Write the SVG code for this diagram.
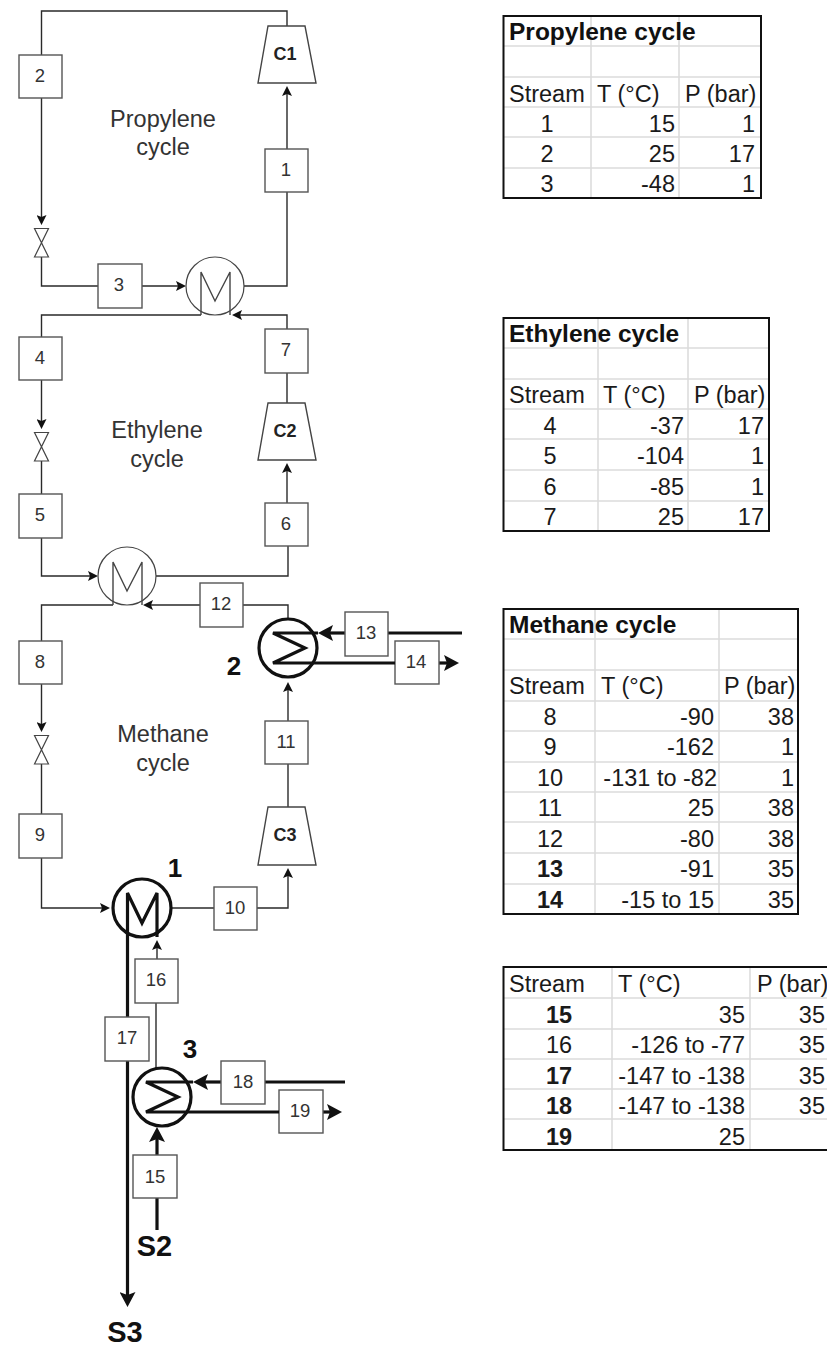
<svg xmlns="http://www.w3.org/2000/svg" width="827" height="1346" viewBox="0 0 827 1346">
<style>
text{font-family:"Liberation Sans",Arial,sans-serif;fill:#1a1a1a}
.c{fill:none;stroke:#2a2a2a;stroke-width:1.4}
.t{fill:none;stroke:#111;stroke-width:3.2}
.b{fill:#fff;stroke:#555;stroke-width:1.4}
.n{font-size:18.5px;text-anchor:middle;fill:#333}
.hx{fill:#fff;stroke:#444;stroke-width:1.2}
.hxb{fill:#fff;stroke:#111;stroke-width:3.2}
.z{fill:none;stroke:#444;stroke-width:1.4}
.v{fill:#fff;stroke:#444;stroke-width:1.2}
.k{fill:#fff;stroke:#444;stroke-width:1.4}
.lab{font-size:23.5px;text-anchor:middle;fill:#333}
.eq{font-size:18px;font-weight:bold;text-anchor:middle;fill:#222}
.num{font-size:26px;font-weight:bold;text-anchor:middle;fill:#111}
.s{font-size:29px;font-weight:bold;text-anchor:middle;fill:#111}
.g{stroke:#dcdcdc;stroke-width:1.6;fill:none}
.o{stroke:#111;stroke-width:2;fill:none}
.x{font-size:23.5px;fill:#111}
.h{font-size:24.5px;font-weight:bold;fill:#111}
.m{text-anchor:middle}
.r{text-anchor:end}
.bd{font-weight:bold}
</style>
<defs>
<marker id="a" viewBox="0 0 10 10" refX="2" refY="5" markerUnits="userSpaceOnUse" markerWidth="10" markerHeight="10" orient="auto"><path d="M0,0L10,5L0,10L2,5Z" fill="#111"/></marker>
<marker id="A" viewBox="0 0 10 10" refX="2" refY="5" preserveAspectRatio="none" markerUnits="userSpaceOnUse" markerWidth="15" markerHeight="16" orient="auto"><path d="M0,0L10,5L0,10L2,5Z" fill="#111"/></marker>
</defs>
<g id="connectors">
<path class="c" marker-end="url(#a)" d="M41.5,98V217"/>
<path class="c" marker-end="url(#a)" d="M41.5,257V286H98M142,286H178"/>
<path class="c" marker-end="url(#a)" d="M244,286H287V192M287,149V94"/>
<path class="c" d="M287,26V11H41.5V55"/>
<path class="c" d="M41.5,337V315H201"/>
<path class="c" marker-end="url(#a)" d="M41.5,380V421"/>
<path class="c" d="M41.5,461V494"/>
<path class="c" marker-end="url(#a)" d="M41.5,538V576H90"/>
<path class="c" d="M156,576H288V546"/>
<path class="c" marker-end="url(#a)" d="M287,503V471"/>
<path class="c" d="M287,403V373"/>
<path class="c" marker-end="url(#a)" d="M287,329V315H240"/>
<path class="c" d="M41.5,641V605H113"/>
<path class="c" marker-end="url(#a)" d="M41.5,684V724"/>
<path class="c" d="M41.5,764V814"/>
<path class="c" marker-end="url(#a)" d="M41.5,858V908H102"/>
<path class="c" d="M171,908H214"/>
<path class="c" marker-end="url(#a)" d="M257,908H288V876"/>
<path class="c" d="M288,807V764"/>
<path class="c" marker-end="url(#a)" d="M288,721V690"/>
<path class="c" marker-end="url(#a)" d="M288,619V605H243M200,605H151"/>
<path class="t" d="M462,633H388"/>
<path class="t" marker-end="url(#A)" d="M345,633H330"/>
<path class="t" marker-end="url(#A)" d="M439,663H447"/>
<path class="c" marker-end="url(#a)" d="M157,959V948"/>
<path class="c" d="M156,1003V1068"/>
<path class="t" d="M127.5,945V1017"/>
<path class="t" marker-end="url(#A)" d="M127.5,1061V1295"/>
<path class="t" d="M345,1082H265"/>
<path class="t" marker-end="url(#A)" d="M221,1082H205"/>
<path class="t" marker-end="url(#A)" d="M323,1112H330"/>
<path class="t" d="M157,1230V1198"/>
<path class="t" marker-end="url(#A)" d="M157,1155V1139"/>
</g>
<g id="box2"><rect class="b" x="19" y="55" width="43" height="43"/><text class="n" x="40" y="82">2</text></g>
<g id="box1"><rect class="b" x="265" y="149" width="43" height="43"/><text class="n" x="286" y="176">1</text></g>
<g id="box3"><rect class="b" x="98" y="264" width="44" height="44"/><text class="n" x="119" y="291">3</text></g>
<g id="box4"><rect class="b" x="19" y="337" width="43" height="43"/><text class="n" x="40" y="364">4</text></g>
<g id="box7"><rect class="b" x="265" y="329" width="43" height="44"/><text class="n" x="286" y="356">7</text></g>
<g id="box5"><rect class="b" x="19" y="494" width="43" height="44"/><text class="n" x="40" y="521">5</text></g>
<g id="box6"><rect class="b" x="265" y="503" width="43" height="43"/><text class="n" x="286" y="530">6</text></g>
<g id="box8"><rect class="b" x="19" y="641" width="43" height="43"/><text class="n" x="40" y="668">8</text></g>
<g id="box9"><rect class="b" x="19" y="814" width="43" height="44"/><text class="n" x="40" y="841">9</text></g>
<g id="box10"><rect class="b" x="214" y="887" width="43" height="43"/><text class="n" x="235" y="914">10</text></g>
<g id="box11"><rect class="b" x="265" y="721" width="43" height="43"/><text class="n" x="286" y="748">11</text></g>
<g id="box12"><rect class="b" x="200" y="583" width="43" height="44"/><text class="n" x="221" y="610">12</text></g>
<g id="box13"><rect class="b" x="345" y="612" width="43" height="44"/><text class="n" x="366" y="639">13</text></g>
<g id="box14"><rect class="b" x="395" y="641" width="44" height="43"/><text class="n" x="416" y="668">14</text></g>
<g id="box15"><rect class="b" x="133" y="1155" width="44" height="43"/><text class="n" x="155" y="1183">15</text></g>
<g id="box16"><rect class="b" x="135" y="959" width="43" height="44"/><text class="n" x="156" y="986">16</text></g>
<g id="box17"><rect class="b" x="105" y="1017" width="44" height="44"/><text class="n" x="127" y="1044">17</text></g>
<g id="box18"><rect class="b" x="221" y="1061" width="44" height="43"/><text class="n" x="243" y="1088">18</text></g>
<g id="box19"><rect class="b" x="279" y="1090" width="44" height="43"/><text class="n" x="300" y="1117">19</text></g>
<g id="C1"><path class="k" d="M268,26H305L316,83H258Z"/><text class="eq" x="285" y="60">C1</text></g>
<g id="C2"><path class="k" d="M268,403H305L316,460H258Z"/><text class="eq" x="285" y="437">C2</text></g>
<g id="C3"><path class="k" d="M268,807H305L316,865H258Z"/><text class="eq" x="285" y="841">C3</text></g>
<g id="valve1"><path class="v" d="M34.5,228.5H48.5L34.5,257H48.5Z"/></g>
<g id="valve2"><path class="v" d="M34.5,432.5H48.5L34.5,461H48.5Z"/></g>
<g id="valve3"><path class="v" d="M34.5,735.5H48.5L34.5,764H48.5Z"/></g>
<g id="hx-top"><circle class="hx" cx="215" cy="286" r="29"/><path class="z" d="M201,315V272L215,301L230,272V315"/></g>
<g id="hx-mid"><circle class="hx" cx="127" cy="576" r="29"/><path class="z" d="M113,605V562L127,591L142,562V605"/></g>
<g id="hx-2"><circle class="hxb" cx="288" cy="648" r="29"/><path class="t" d="M318,633H273L305,648L273,663H395"/></g>
<g id="hx-1"><circle class="hxb" cx="142" cy="908" r="29"/><path class="t" d="M127.5,945V893L142,923L157,893V937"/></g>
<g id="hx-3"><circle class="hxb" cx="162" cy="1097" r="29"/><path class="t" d="M193,1082H146L178,1097L146,1112H279"/></g>
<g id="labels">
<text class="lab" x="163" y="127">Propylene</text><text class="lab" x="163" y="155">cycle</text>
<text class="lab" x="157" y="438">Ethylene</text><text class="lab" x="157" y="467">cycle</text>
<text class="lab" x="163" y="742">Methane</text><text class="lab" x="163" y="771">cycle</text>
<text class="num" x="234" y="675">2</text><text class="num" x="175" y="877">1</text><text class="num" x="190" y="1058">3</text>
<text class="s" x="154.500" y="1256">S2</text><text class="s" x="125" y="1342">S3</text>
</g>
<g id="table-propylene">
<path class="g" d="M591,16V198M679,16V198M503,46H761M503,77H761M503,107H761M503,137H761M503,168H761"/>
<rect class="o" x="503.5" y="16" width="257.5" height="182"/>
<text class="h" x="509" y="40">Propylene cycle</text>
<g class="x"><text x="509" y="102">Stream</text><text x="597" y="102">T (°C)</text><text x="685" y="102">P (bar)</text>
<text class="m" x="547" y="132">1</text><text class="r" x="675" y="132">15</text><text class="r" x="755" y="132">1</text>
<text class="m" x="547" y="162">2</text><text class="r" x="675" y="162">25</text><text class="r" x="755" y="162">17</text>
<text class="m" x="547" y="192">3</text><text class="r" x="675" y="192">-48</text><text class="r" x="755" y="192">1</text></g>
</g>
<g id="table-ethylene">
<path class="g" d="M598,318V531M688,318V531M503,348H769M503,379H769M503,409H769M503,439H769M503,470H769M503,501H769"/>
<rect class="o" x="503.5" y="318" width="265.5" height="213"/>
<text class="h" x="509" y="342">Ethylene cycle</text>
<g class="x"><text x="509" y="403">Stream</text><text x="603" y="403">T (°C)</text><text x="694" y="403">P (bar)</text>
<text class="m" x="550" y="434">4</text><text class="r" x="684" y="434">-37</text><text class="r" x="764" y="434">17</text>
<text class="m" x="550" y="464">5</text><text class="r" x="684" y="464">-104</text><text class="r" x="764" y="464">1</text>
<text class="m" x="550" y="495">6</text><text class="r" x="684" y="495">-85</text><text class="r" x="764" y="495">1</text>
<text class="m" x="550" y="525">7</text><text class="r" x="684" y="525">25</text><text class="r" x="764" y="525">17</text></g>
</g>
<g id="table-methane">
<path class="g" d="M595,609V914M719,609V914M503,639H798M503,670H798M503,701H798M503,731H798M503,762H798M503,792H798M503,822H798M503,853H798M503,884H798"/>
<rect class="o" x="503.5" y="609" width="294.5" height="305"/>
<text class="h" x="509" y="633">Methane cycle</text>
<g class="x"><text x="509" y="694">Stream</text><text x="601" y="694">T (°C)</text><text x="724" y="694">P (bar)</text>
<text class="m" x="550" y="725">8</text><text class="r" x="714" y="725">-90</text><text class="r" x="794" y="725">38</text>
<text class="m" x="550" y="755">9</text><text class="r" x="714" y="755">-162</text><text class="r" x="794" y="755">1</text>
<text class="m" x="550" y="786">10</text><text class="r" x="717" y="786">-131 to -82</text><text class="r" x="794" y="786">1</text>
<text class="m" x="550" y="816">11</text><text class="r" x="714" y="816">25</text><text class="r" x="794" y="816">38</text>
<text class="m" x="550" y="847">12</text><text class="r" x="714" y="847">-80</text><text class="r" x="794" y="847">38</text>
<text class="m bd" x="550" y="877">13</text><text class="r" x="714" y="877">-91</text><text class="r" x="794" y="877">35</text>
<text class="m bd" x="550" y="908">14</text><text class="r" x="714" y="908">-15 to 15</text><text class="r" x="794" y="908">35</text></g>
</g>
<g id="table-feed">
<path class="g" d="M612,967V1150M750,967V1150M503,998H827M503,1029H827M503,1059H827M503,1089H827M503,1119H827"/>
<path class="o" d="M827,967H503.5V1150H827"/>
<g class="x"><text x="509" y="992">Stream</text><text x="618" y="992">T (°C)</text><text x="757" y="992">P (bar)</text>
<text class="m bd" x="559" y="1023">15</text><text class="r" x="745" y="1023">35</text><text class="r" x="825" y="1023">35</text>
<text class="m" x="559" y="1053">16</text><text class="r" x="745" y="1053">-126 to -77</text><text class="r" x="825" y="1053">35</text>
<text class="m bd" x="559" y="1084">17</text><text class="r" x="745" y="1084">-147 to -138</text><text class="r" x="825" y="1084">35</text>
<text class="m bd" x="559" y="1114">18</text><text class="r" x="745" y="1114">-147 to -138</text><text class="r" x="825" y="1114">35</text>
<text class="m bd" x="559" y="1145">19</text><text class="r" x="745" y="1145">25</text></g>
</g>
</svg>
